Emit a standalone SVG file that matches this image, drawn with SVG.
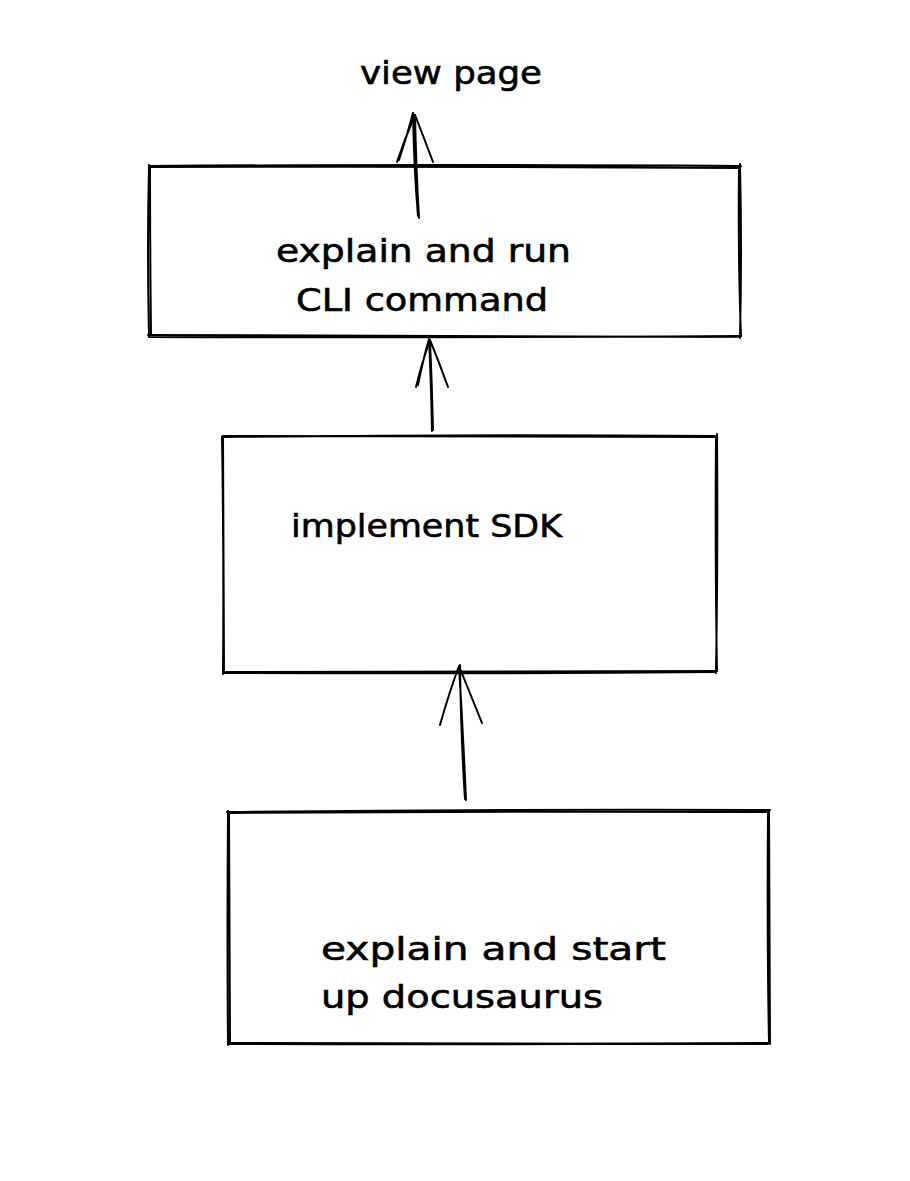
<svg xmlns="http://www.w3.org/2000/svg" width="910" height="1181" viewBox="0 0 910 1181">
<style>
.bg{fill:#ffffff}
.box path{fill:none;stroke:#000;stroke-width:2;stroke-linecap:round;stroke-linejoin:round}
.edges path{fill:none;stroke:#000;stroke-width:2;stroke-linecap:round;stroke-linejoin:round}
text{font-family:"DejaVu Sans","Liberation Sans",sans-serif;font-size:32px;fill:#000;stroke:#000;stroke-width:0.6}
</style>
<rect class="bg" x="0" y="0" width="910" height="1181"/>
<g id="node-view-page">
<text x="360" y="84" textLength="182" lengthAdjust="spacingAndGlyphs">view page</text>
</g>
<g id="node-cli" class="box">
<path d="M149 166 Q420 164 741 166 M150 167 Q450 166 739 168"/>
<path d="M740 164 Q742 250 740 338 M739 167 Q738 260 741 336"/>
<path d="M741 336 Q450 338 150 337 M739 337 Q400 336 148 335"/>
<path d="M149 337 Q147 250 149 165 M151 335 Q150 240 150 167"/>
<text x="276" y="262" textLength="295" lengthAdjust="spacingAndGlyphs">explain and run</text>
<text x="296" y="311" textLength="252" lengthAdjust="spacingAndGlyphs">CLI command</text>
</g>
<g id="node-sdk" class="box">
<path d="M222 437 Q470 434 717 436 M223 436 Q480 436 716 437"/>
<path d="M717 434 Q718 550 716 673 M716 437 Q715 560 717 671"/>
<path d="M716 672 Q470 674 223 673 M717 671 Q480 672 224 672"/>
<path d="M223 674 Q224 560 222 437 M224 672 Q223 550 223 436"/>
<text x="291" y="537" textLength="271" lengthAdjust="spacingAndGlyphs">implement SDK</text>
</g>
<g id="node-docusaurus" class="box">
<path d="M227 812 Q500 809 770 810 M229 813 Q520 811 768 812"/>
<path d="M769 810 Q770 930 770 1044 M768 812 Q767 940 769 1042"/>
<path d="M770 1043 Q500 1045 228 1044 M768 1044 Q510 1043 230 1043"/>
<path d="M228 1045 Q227 930 228 811 M230 1043 Q229 920 229 813"/>
<text x="321" y="960" textLength="345" lengthAdjust="spacingAndGlyphs">explain and start</text>
<text x="321" y="1008" textLength="282" lengthAdjust="spacingAndGlyphs">up docusaurus</text>
</g>
<g id="connectors" class="edges">
<path d="M419 218 Q416 165 415 115 M418 216 Q414 170 413 113"/>
<path d="M397 162 Q405 138 415 115 M399 160 Q407 136 413 113"/>
<path d="M433 162 Q424 138 415 115"/>
<path d="M433 430 Q432 385 430 340 M432 431 Q431 380 429 339"/>
<path d="M416 387 Q422 362 430 340 M418 385 Q423 360 429 339"/>
<path d="M448 387 Q439 362 430 340"/>
<path d="M466 800 Q463 730 459 666 M465 799 Q461 740 460 665"/>
<path d="M440 725 Q449 693 459 666"/>
<path d="M482 723 Q470 693 459 666"/>
</g>
</svg>
